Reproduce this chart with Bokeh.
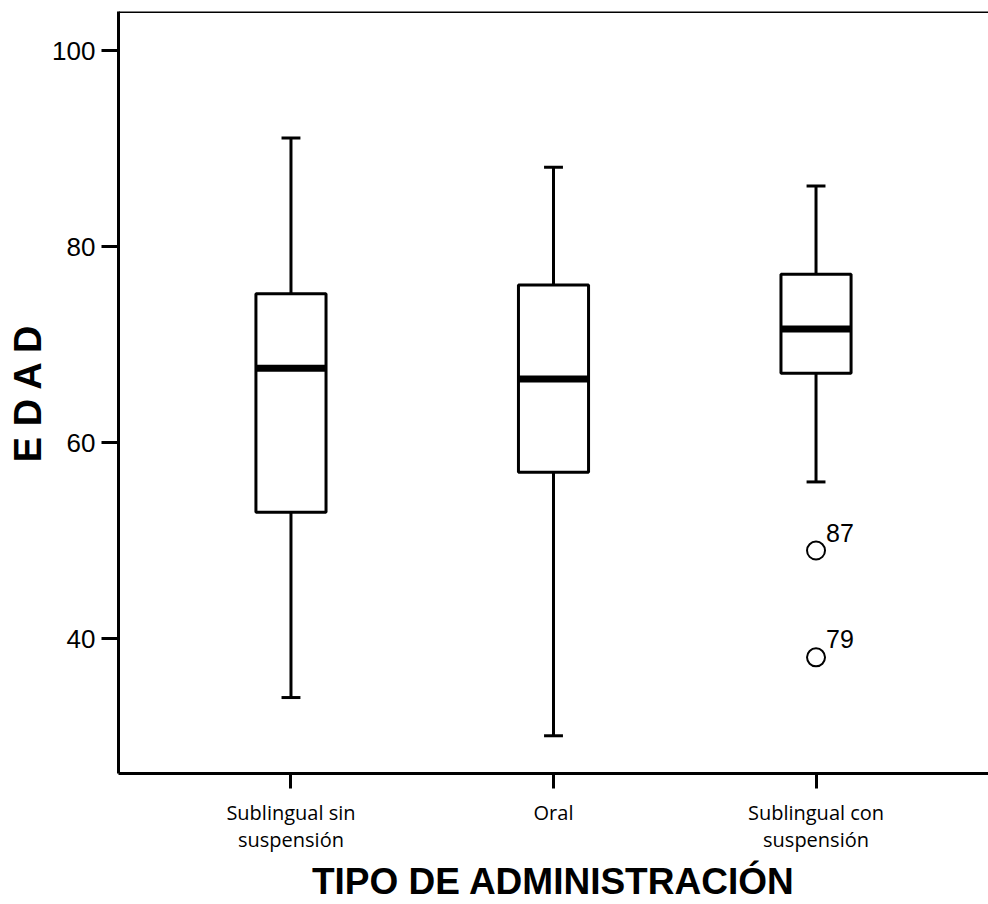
from bokeh.plotting import figure
from bokeh.models import FixedTicker, Span, Range1d, ColumnDataSource
from bokeh.embed import file_html
from bokeh.resources import INLINE

# Age (EDAD) by administration route: five-number summaries and outliers
categories = ["Sublingual sin\nsuspensión", "Oral", "Sublingual con\nsuspensión"]
lower_whisker = [34.0, 30.1, 56.0]
q1 = [52.9, 57.0, 67.1]
median = [67.6, 66.5, 71.6]
q3 = [75.2, 76.1, 77.2]
upper_whisker = [91.1, 88.1, 86.2]

outlier_group = [3, 3]
outlier_value = [49.0, 38.1]
outlier_case = ["87", "79"]

y_ticks = [40, 60, 80, 100]
x_title = "TIPO DE ADMINISTRACIÓN"
y_title = "E D A D"

pos = [i + 1 for i in range(len(categories))]
box_w = 0.267
cap_w = 0.072
y_lo, y_hi = 26.25, 104.0

src = ColumnDataSource(dict(
    x=pos, lo=lower_whisker, q1=q1, med=median, q3=q3, hi=upper_whisker,
    x0=[p - box_w / 2 for p in pos], x1=[p + box_w / 2 for p in pos],
    c0=[p - cap_w / 2 for p in pos], c1=[p + cap_w / 2 for p in pos],
))
out_src = ColumnDataSource(dict(x=outlier_group, y=outlier_value, t=outlier_case))

p = figure(width=988, height=904, output_backend="svg", toolbar_location=None,
           x_range=Range1d(0.343, 3.657), y_range=Range1d(y_lo, y_hi),
           min_border_left=118, min_border_right=0, min_border_top=11,
           min_border_bottom=131)
p.outline_line_color = None
p.xgrid.visible = False
p.ygrid.visible = False
p.background_fill_color = "white"
p.border_fill_color = "white"

# whiskers and caps
p.segment(x0="x", y0="q3", x1="x", y1="hi", source=src, line_color="black", line_width=3)
p.segment(x0="x", y0="q1", x1="x", y1="lo", source=src, line_color="black", line_width=3)
p.segment(x0="c0", y0="hi", x1="c1", y1="hi", source=src, line_color="black", line_width=3)
p.segment(x0="c0", y0="lo", x1="c1", y1="lo", source=src, line_color="black", line_width=3)

# boxes and medians
p.vbar(x="x", width=box_w, bottom="q1", top="q3", source=src,
       fill_color="white", line_color="black", line_width=3)
p.segment(x0="x0", y0="med", x1="x1", y1="med", source=src,
          line_color="black", line_width=7)

# outliers with case numbers
p.scatter(x="x", y="y", source=out_src, marker="circle", size=18,
          fill_color="white", line_color="black", line_width=2)
p.text(x="x", y="y", text="t", source=out_src, x_offset=10, y_offset=-18,
       text_baseline="alphabetic", text_align="left", text_font_size="25px",
       text_font={"value": "Liberation Sans"}, text_color="black")

# top frame line
p.add_layout(Span(location=y_hi, dimension="width", line_color="black", line_width=3))

# y axis
p.yaxis.ticker = FixedTicker(ticks=y_ticks)
p.yaxis.minor_tick_line_color = None
p.yaxis.major_tick_in = 0
p.yaxis.major_tick_out = 17
p.yaxis.major_tick_line_width = 3
p.yaxis.axis_line_width = 3
p.yaxis.major_label_standoff = 6
p.yaxis.major_label_text_font = "Liberation Sans"
p.yaxis.major_label_text_font_size = "26px"
p.yaxis.major_label_text_color = "black"
p.yaxis.axis_label = y_title
p.yaxis.axis_label_text_font = "Liberation Sans"
p.yaxis.axis_label_text_font_style = "bold"
p.yaxis.axis_label_text_font_size = "38px"
p.yaxis.axis_label_text_color = "black"
p.yaxis.axis_label_standoff = 0

# x axis
p.xaxis.ticker = FixedTicker(ticks=pos)
p.xaxis.major_label_overrides = {pp: c for pp, c in zip(pos, categories)}
p.xaxis.minor_tick_line_color = None
p.xaxis.major_tick_in = 0
p.xaxis.major_tick_out = 15
p.xaxis.major_tick_line_width = 3
p.xaxis.axis_line_width = 3
p.xaxis.major_label_standoff = 10
p.xaxis.major_label_text_font = "Open Sans"
p.xaxis.major_label_text_font_size = "20px"
p.xaxis.major_label_text_line_height = 1.0
p.xaxis.major_label_text_color = "black"
p.xaxis.axis_label = x_title
p.xaxis.axis_label_text_font = "Liberation Sans"
p.xaxis.axis_label_text_font_style = "bold"
p.xaxis.axis_label_text_font_size = "37px"
p.xaxis.axis_label_text_color = "black"
p.xaxis.axis_label_standoff = 5

open("out.html", "w").write(file_html(p, INLINE))
